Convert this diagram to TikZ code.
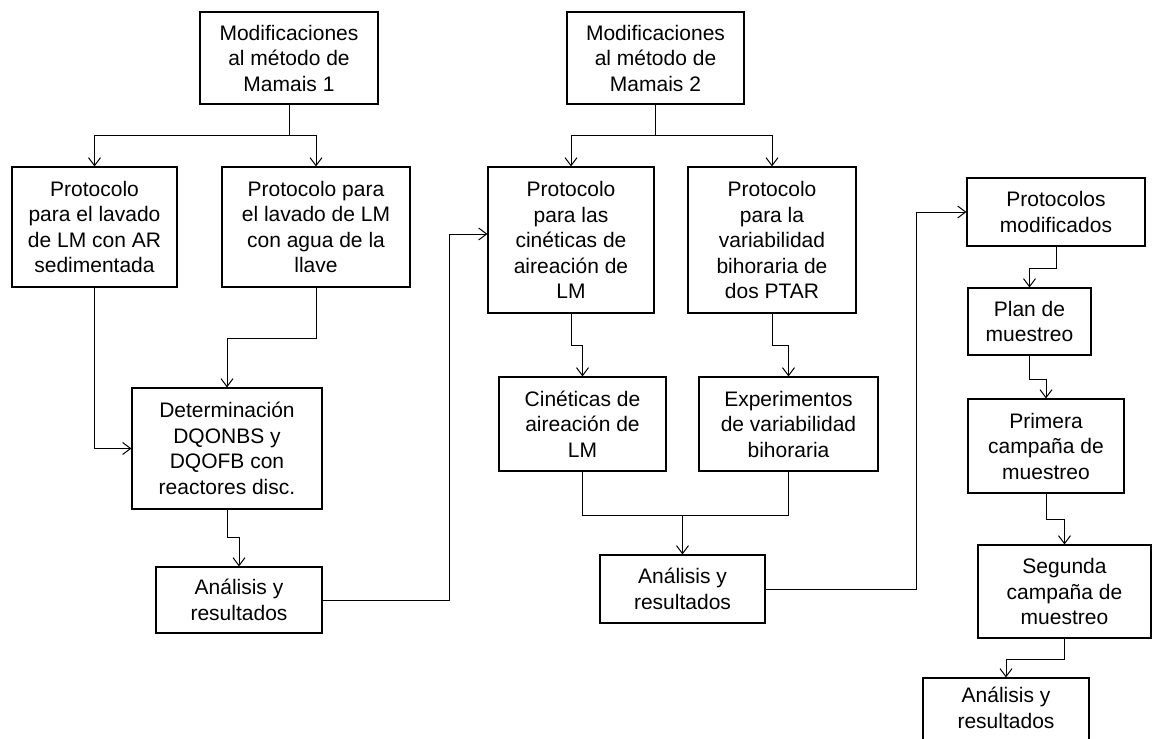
\documentclass[tikz,border=0pt]{standalone}
\usepackage{fontspec}
\setmainfont{Liberation Sans}
\usetikzlibrary{arrows.meta}
\tikzset{
  box/.style={draw=black, line width=1.1pt, rectangle, inner sep=0pt, align=center,
    font=\fontsize{21}{25.5}\selectfont},
  conn/.style={draw=black, line width=1pt},
  arr/.style={conn, -{Straight Barb[length=8pt,width=12pt,line width=1pt]}}
}
\begin{document}
\begin{tikzpicture}[x=1pt,y=-1pt]
\useasboundingbox (0,0) rectangle (1152,739);
% left column
\node[box, minimum width=178pt, minimum height=92pt] (M1) at (289,58) {Modificaciones\\al método de\\Mamais 1};
\node[box, minimum width=165pt, minimum height=120pt] (P1) at (94.5,227) {Protocolo\\para el lavado\\de LM con AR\\sedimentada};
\node[box, minimum width=188pt, minimum height=120pt] (P2) at (316,227) {Protocolo para\\el lavado de LM\\con agua de la\\llave};
\node[box, minimum width=190pt, minimum height=121pt] (D) at (227,448.5) {Determinación\\DQONBS y\\DQOFB con\\reactores disc.};
\node[box, minimum width=166pt, minimum height=66pt] (A1) at (239,600) {Análisis y\\resultados};
% middle column
\node[box, minimum width=177pt, minimum height=92pt] (M2) at (655.5,58) {Modificaciones\\al método de\\Mamais 2};
\node[box, minimum width=166pt, minimum height=146pt] (P3) at (571,240) {Protocolo\\para las\\cinéticas de\\aireación de\\LM};
\node[box, minimum width=168pt, minimum height=146pt] (P4) at (772,240) {Protocolo\\para la\\variabilidad\\bihoraria de\\dos PTAR};
\node[box, minimum width=167pt, minimum height=94pt] (C) at (582.5,424) {Cinéticas de\\aireación de\\LM};
\node[box, minimum width=179pt, minimum height=94pt] (E) at (788.5,424) {Experimentos\\de variabilidad\\bihoraria};
\node[box, minimum width=165pt, minimum height=68pt] (A2) at (682.5,589) {Análisis y\\resultados};
% right column
\node[box, minimum width=178pt, minimum height=68pt] (PM) at (1056,212) {Protocolos\\modificados};
\node[box, minimum width=123pt, minimum height=67pt] (PL) at (1029.5,321.5) {Plan de\\muestreo};
\node[box, minimum width=156pt, minimum height=94pt] (PR) at (1046,446) {Primera\\campaña de\\muestreo};
\node[box, minimum width=173pt, minimum height=93pt] (SC) at (1064.5,591.5) {Segunda\\campaña de\\muestreo};
\node[box, minimum width=166pt, minimum height=82pt, text depth=0pt] (A3) at (1006,719) {};
\node[font=\fontsize{21}{25.5}\selectfont, align=center, inner sep=0pt] (A3t) at (1006,708) {Análisis y\\resultados};
% connectors left
\draw[arr] (M1.south) -- ++(0,31) -| (P1.north);
\draw[arr] (M1.south) -- ++(0,31) -| (P2.north);
\draw[arr] (P2.south) -- ++(0,51) -| (D.north);
\draw[arr] (P1.south) |- (D.west);
\draw[arr] (D.south) -- ++(0,28) -| (A1.north);
\draw[arr] (A1.east) -- ++(127,0) |- ([yshift=6pt]P3.west);
% connectors middle
\draw[arr] (M2.south) -- ++(0,31) -| (P3.north);
\draw[arr] (M2.south) -- ++(0,31) -| (P4.north);
\draw[arr] (P3.south) -- ++(0,32) -| (C.north);
\draw[arr] (P4.south) -- ++(0,32) -| (E.north);
\draw[conn] (C.south) -- ++(0,44) coordinate (j1) -| (E.south);
\draw[arr] (A2.north |- j1) -- (A2.north);
\draw[arr] (A2.east) -- ++(151,0) |- (PM.west);
% connectors right
\draw[arr] (PM.south) -- ++(0,22) -| (PL.north);
\draw[arr] (PL.south) -- ++(0,24) -| (PR.north);
\draw[arr] (PR.south) -- ++(0,26) -| (SC.north);
\draw[arr] (SC.south) -- ++(0,21) -| (A3.north);
\end{tikzpicture}
\end{document}
